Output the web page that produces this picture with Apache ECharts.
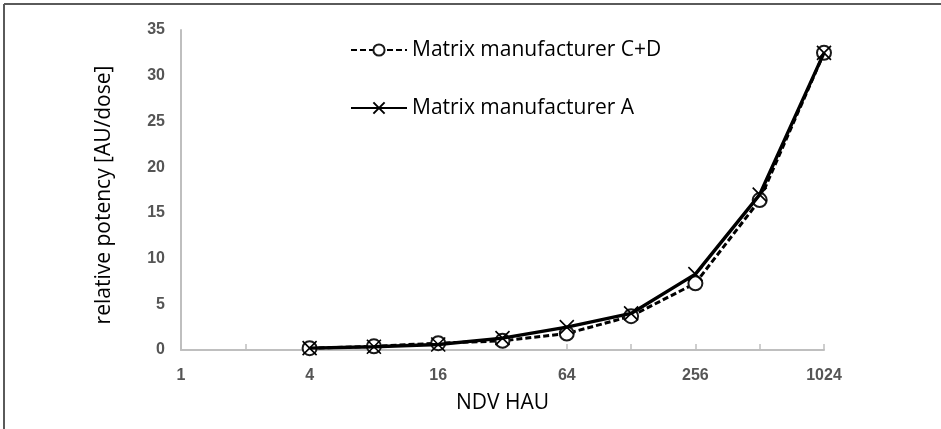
<!DOCTYPE html>
<html>
<head>
<meta charset="utf-8">
<script src="https://cdn.jsdelivr.net/npm/echarts@6/dist/echarts.min.js"></script>
<style>
  html, body { margin: 0; padding: 0; background: #fff; }
  #chart { width: 941px; height: 429px; }
</style>
</head>
<body>
<div id="chart"></div>
<script>
// NDV HAU dilution levels (powers of two), plotted evenly spaced
const ndvHau = ['1', '2', '4', '8', '16', '32', '64', '128', '256', '512', '1024'];

// relative potency [AU/dose] per level; '-' = not measured
const potencyCD = ['-', '-', 0.2, 0.4, 0.75, 1.0, 1.8, 3.7, 7.3, 16.4, 32.5];
const potencyA  = ['-', '-', 0.2, 0.35, 0.6, 1.3, 2.5, 4.0, 8.3, 17.0, 32.5];

const seriesNames = ['Matrix manufacturer C+D', 'Matrix manufacturer A'];

const yMin = 0, yMax = 35, yStep = 5;

const textFont = 'Open Sans';
const tickFont = 'Liberation Sans';

const chart = echarts.init(document.getElementById('chart'), null, { renderer: 'canvas' });

const crossPath = 'path://M0,0L10,10M10,0L0,10';

chart.setOption({
  backgroundColor: '#ffffff',
  animation: false,
  grid: { left: 181, right: 117, top: 30, bottom: 79, containLabel: false },
  legend: {
    orient: 'vertical',
    left: 350,
    top: 39,
    padding: 0,
    itemWidth: 56,
    itemHeight: 14,
    itemGap: 36,
    textStyle: { fontFamily: textFont, fontSize: 21, color: '#000', lineHeight: 22 },
    data: seriesNames
  },
  xAxis: {
    type: 'category',
    data: ndvHau,
    boundaryGap: false,
    name: 'NDV HAU',
    nameLocation: 'middle',
    nameGap: 43,
    nameTextStyle: { fontFamily: textFont, fontSize: 21, color: '#000' },
    axisLine: { show: true, lineStyle: { color: '#bfbfbf', width: 2 } },
    axisTick: { show: true, inside: true, length: 6, interval: 0, lineStyle: { color: '#bfbfbf', width: 1.5 } },
    axisLabel: { interval: 1, margin: 18, fontFamily: tickFont, fontSize: 16, fontWeight: 'bold', color: '#555555' },
    splitLine: { show: false }
  },
  yAxis: {
    type: 'value',
    min: yMin,
    max: yMax,
    interval: yStep,
    name: 'relative potency [AU/dose]',
    nameLocation: 'middle',
    nameRotate: 90,
    nameGap: 66,
    nameTextStyle: { fontFamily: textFont, fontSize: 21, color: '#000', padding: [0, 10, 0, 0] },
    axisLine: { show: true, lineStyle: { color: '#bfbfbf', width: 2 } },
    axisTick: { show: false },
    axisLabel: { margin: 16, fontFamily: tickFont, fontSize: 16, fontWeight: 'bold', color: '#555555' },
    splitLine: { show: false }
  },
  series: [
    {
      name: seriesNames[0],
      type: 'line',
      data: potencyCD,
      z: 2,
      symbol: 'emptyCircle',
      symbolSize: 14,
      showAllSymbol: true,
      lineStyle: { color: '#000', width: 3, type: [6, 3] },
      itemStyle: { color: '#1a1a1a', borderColor: '#1a1a1a', borderWidth: 1.6 }
    },
    {
      name: seriesNames[1],
      type: 'line',
      data: potencyA,
      z: 3,
      symbol: crossPath,
      symbolSize: 14,
      showAllSymbol: true,
      lineStyle: { color: '#000', width: 3.4 },
      itemStyle: { color: '#000', borderColor: '#000', borderWidth: 1.6 }
    }
  ],
  graphic: [
    { type: 'line', silent: true, shape: { x1: 4, y1: 4, x2: 941, y2: 4 }, style: { stroke: '#5a5a5a', lineWidth: 2 } },
    { type: 'line', silent: true, shape: { x1: 4, y1: 4, x2: 4, y2: 429 }, style: { stroke: '#5a5a5a', lineWidth: 2 } }
  ]
});
</script>
</body>
</html>
